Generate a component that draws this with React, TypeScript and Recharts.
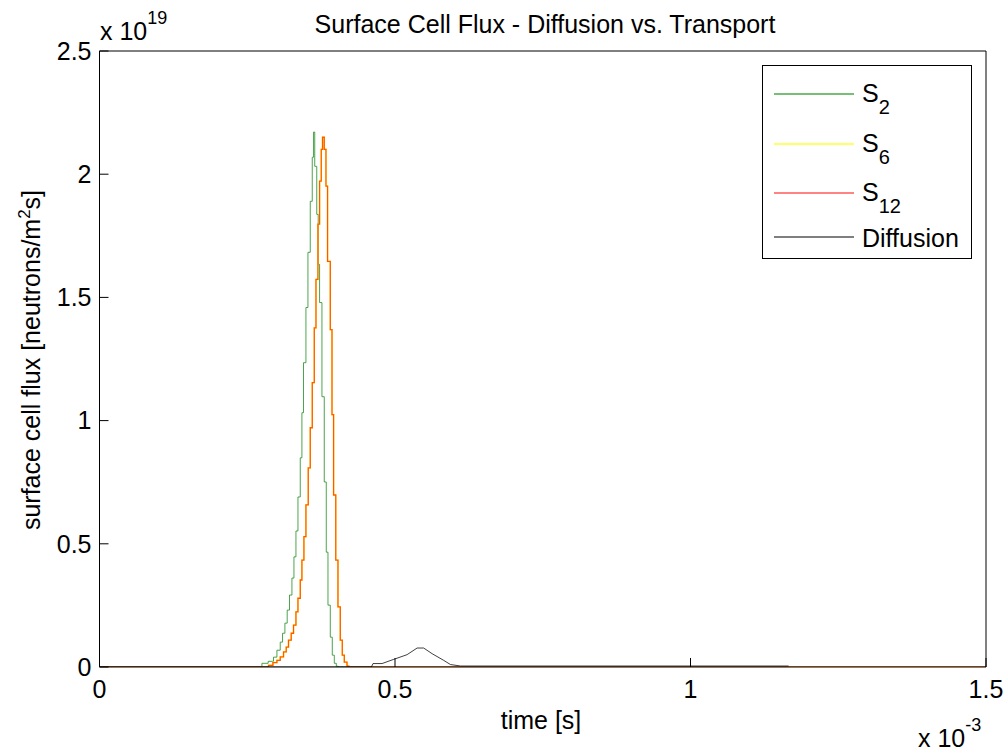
import React from 'react';
import { LineChart, Line, XAxis, YAxis, Legend } from 'recharts';

// time in units of 1e-3 s, flux in units of 1e19 neutrons/m^2 s
const timeS2 = [0, 0.2748, 0.2854, 0.2944, 0.3002, 0.3058, 0.3097, 0.3137, 0.3176, 0.3215, 0.3256, 0.329, 0.3324, 0.3358, 0.3397, 0.3425, 0.3452, 0.3493, 0.3527, 0.3566, 0.36, 0.3622, 0.3642, 0.3676, 0.3701, 0.3724, 0.3764, 0.3803, 0.3837, 0.3866, 0.3905, 0.3939, 0.3973, 0.4007, 0.404, 1.5];
const fluxS2 = [0, 0.015, 0.023, 0.04, 0.068, 0.101, 0.137, 0.178, 0.231, 0.292, 0.361, 0.447, 0.552, 0.69, 0.849, 1.032, 1.235, 1.459, 1.683, 1.89, 2.069, 2.171, 2.032, 1.837, 1.634, 1.479, 1.097, 0.751, 0.466, 0.251, 0.121, 0.048, 0.015, 0.003, 0, 0];

const timeS6 = [0, 0.286, 0.2934, 0.3002, 0.3058, 0.3114, 0.3159, 0.3198, 0.3244, 0.3283, 0.3324, 0.3358, 0.3397, 0.3425, 0.3459, 0.3493, 0.3532, 0.3566, 0.36, 0.3634, 0.3663, 0.3696, 0.3724, 0.3752, 0.3774, 0.3803, 0.3832, 0.3859, 0.3905, 0.3934, 0.3961, 0.3998, 0.4035, 0.4074, 0.4108, 0.4142, 0.4188, 0.422, 1.5];
const fluxS6 = [0, 0.007, 0.018, 0.027, 0.041, 0.061, 0.081, 0.109, 0.137, 0.17, 0.224, 0.279, 0.353, 0.434, 0.529, 0.658, 0.808, 0.971, 1.154, 1.376, 1.573, 1.797, 1.972, 2.101, 2.15, 2.101, 1.952, 1.646, 1.369, 1.024, 0.698, 0.434, 0.244, 0.109, 0.048, 0.02, 0.003, 0, 0];

const timeS12 = [0, 0.286, 0.2934, 0.3002, 0.3058, 0.3114, 0.3159, 0.3198, 0.3244, 0.3283, 0.3324, 0.3358, 0.3397, 0.3425, 0.3459, 0.3493, 0.3532, 0.3566, 0.36, 0.3634, 0.3663, 0.3696, 0.3724, 0.3752, 0.3774, 0.3803, 0.3832, 0.3859, 0.3905, 0.3934, 0.3961, 0.3998, 0.4035, 0.4074, 0.4108, 0.4142, 0.4188, 0.422, 1.5];
const fluxS12 = [0, 0.007, 0.018, 0.027, 0.041, 0.061, 0.081, 0.109, 0.137, 0.17, 0.224, 0.279, 0.353, 0.434, 0.529, 0.658, 0.808, 0.971, 1.154, 1.376, 1.573, 1.797, 1.972, 2.101, 2.15, 2.101, 1.952, 1.646, 1.369, 1.024, 0.698, 0.434, 0.244, 0.109, 0.048, 0.02, 0.003, 0, 0];

const timeDiff = [0, 0.46, 0.4628, 0.4781, 0.4977, 0.5204, 0.5374, 0.5485, 0.5628, 0.5824, 0.5938, 0.6108, 1.166];
const fluxDiff = [0, 0, 0.014, 0.014, 0.031, 0.05, 0.077, 0.077, 0.054, 0.027, 0.01, 0.004, 0.004];

const xTicks = [0, 0.5, 1, 1.5];
const yTicks = [0, 0.5, 1, 1.5, 2, 2.5];
const xTickLabels = ['0', '0.5', '1', '1.5'];
const yTickLabels = ['0', '0.5', '1', '1.5', '2', '2.5'];

const seriesBase = ['S', 'S', 'S', 'Diffusion'];
const seriesSub = ['2', '6', '12', ''];
const seriesColors = ['#1f8f1f', '#ffff00', '#ff0000', '#000000'];
const legendColors = ['#4aa84a', '#ffff33', '#ff5a5a', '#555555'];

const toRows = (t: number[], v: number[]) => t.map((x, i) => ({ t: x, f: v[i] }));
const dataS2 = toRows(timeS2, fluxS2);
const dataS6 = toRows(timeS6, fluxS6);
const dataS12 = toRows(timeS12, fluxS12);
const dataDiff = toRows(timeDiff, fluxDiff);

const FONT = '"Liberation Sans", Arial, Helvetica, sans-serif';
const FS = 25;
const TICK_LEN = 9;
const X_MARGIN = 13;
const Y_MARGIN = 8;

const W = 1007;
const H = 753;

function BottomTick(props: any) {
  const { x, y, payload } = props;
  const axisY = y - X_MARGIN;
  const label = xTickLabels[xTicks.indexOf(payload.value)] ?? String(payload.value);
  return (
    <g>
      <line x1={x} x2={x} y1={axisY} y2={axisY - TICK_LEN} stroke="#000" strokeWidth={1} />
      <text x={x} y={y} dy="0.71em" textAnchor="middle" fontSize={FS} fontFamily={FONT} fill="#000">{label}</text>
    </g>
  );
}

function LeftTick(props: any) {
  const { x, y, payload } = props;
  const axisX = x + Y_MARGIN;
  const label = yTickLabels[yTicks.indexOf(payload.value)] ?? String(payload.value);
  return (
    <g>
      <line x1={axisX} x2={axisX + TICK_LEN} y1={y} y2={y} stroke="#000" strokeWidth={1} />
      <text x={x} y={y} dy="0.355em" textAnchor="end" fontSize={FS} fontFamily={FONT} fill="#000">{label}</text>
    </g>
  );
}

function LegendBox() {
  const rows = [28, 78, 127, 171];
  return (
    <svg width={208} height={192} style={{ display: 'block' }}>
      {seriesBase.map((b, i) => (
        <g key={i}>
          <line x1={11} x2={91} y1={rows[i]} y2={rows[i]} stroke={legendColors[i]} strokeWidth={1.6} />
          <text x={99} y={seriesSub[i] ? rows[i] + 8 : rows[i] + 10} fontSize={FS} fontFamily={FONT} fill="#000">
            {b}
            {seriesSub[i] ? (
              <tspan dy={12} fontSize={20}>{seriesSub[i]}</tspan>
            ) : null}
          </text>
        </g>
      ))}
    </svg>
  );
}

export default function App() {
  return (
    <div style={{ position: 'absolute', left: 0, top: 0, width: W, height: H, background: '#fff' }}>
      <LineChart width={W} height={H} margin={{ top: 51, right: 21, bottom: 85, left: 98.5 }}>
        <XAxis xAxisId="b" orientation="bottom" type="number" dataKey="t" domain={[0, 1.5]} ticks={xTicks}
          height={1} tickLine={false} tickSize={0} tickMargin={X_MARGIN} tick={<BottomTick />}
          axisLine={{ stroke: '#000' }} allowDataOverflow />
        <XAxis xAxisId="tp" orientation="top" type="number" dataKey="t" domain={[0, 1.5]} ticks={xTicks}
          height={1} mirror tick={false} tickSize={TICK_LEN} tickLine={{ stroke: '#000' }} axisLine={{ stroke: '#000' }} allowDataOverflow />
        <YAxis yAxisId="l" orientation="left" type="number" domain={[0, 2.5]} ticks={yTicks}
          width={1} tickLine={false} tickSize={0} tickMargin={Y_MARGIN} tick={<LeftTick />}
          axisLine={{ stroke: '#000' }} allowDataOverflow />
        <YAxis yAxisId="r" orientation="right" type="number" domain={[0, 2.5]} ticks={yTicks}
          width={1} mirror tick={false} tickSize={TICK_LEN} tickLine={{ stroke: '#000' }} axisLine={{ stroke: '#000' }} allowDataOverflow />
        <Line xAxisId="b" yAxisId="l" data={dataS2} dataKey="f" name="S2" type="stepAfter" stroke={seriesColors[0]} strokeOpacity={0.8} strokeWidth={1} dot={false} isAnimationActive={false} />
        <Line xAxisId="b" yAxisId="l" data={dataS6} dataKey="f" name="S6" type="stepAfter" stroke={seriesColors[1]} strokeWidth={1.5} dot={false} isAnimationActive={false} />
        <Line xAxisId="b" yAxisId="l" data={dataS12} dataKey="f" name="S12" type="stepAfter" stroke={seriesColors[2]} strokeOpacity={0.65} strokeWidth={1.3} dot={false} isAnimationActive={false} />
        <Line xAxisId="b" yAxisId="l" data={dataDiff} dataKey="f" name="Diffusion" type="linear" stroke={seriesColors[3]} strokeOpacity={0.75} strokeWidth={1} dot={false} isAnimationActive={false} />
        <Legend layout="horizontal" verticalAlign="middle" align="center"
          wrapperStyle={{ left: 762, top: 65, width: 210, height: 194, border: '1px solid #000', background: '#fff', boxSizing: 'border-box' }}
          content={() => <LegendBox />} />
      </LineChart>
      <svg width={W} height={H} style={{ position: 'absolute', left: 0, top: 0, pointerEvents: 'none' }}>
        <text x={545} y={33} textAnchor="middle" fontSize={FS} fontFamily={FONT} fill="#000">
          Surface Cell Flux - Diffusion vs. Transport
        </text>
        <text x={100} y={40} fontSize={FS} fontFamily={FONT} fill="#000">
          x 10<tspan dy={-16} fontSize={18}>19</tspan>
        </text>
        <text x={541} y={729} textAnchor="middle" fontSize={FS} fontFamily={FONT} fill="#000">time [s]</text>
        <text x={918} y={747} fontSize={FS} fontFamily={FONT} fill="#000">
          x 10<tspan dy={-16} fontSize={18}>-3</tspan>
        </text>
        <text transform="translate(40,360) rotate(-90)" textAnchor="middle" fontSize={FS} fontFamily={FONT} fill="#000">
          surface cell flux [neutrons/m<tspan dy={-10} fontSize={17}>2</tspan><tspan dy={10}>s]</tspan>
        </text>
      </svg>
    </div>
  );
}
